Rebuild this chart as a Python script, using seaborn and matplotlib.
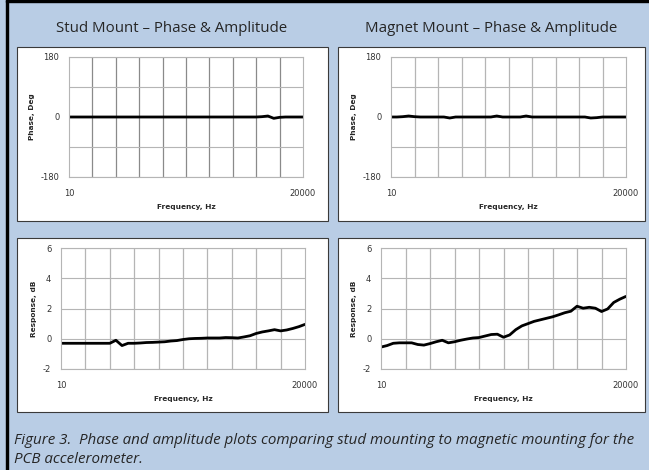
import numpy as np
import matplotlib
matplotlib.use("Agg")
import matplotlib.pyplot as plt
from matplotlib.patches import Rectangle
import seaborn as sns

# Frecuencias de medida (eje de categorias, 41 puntos)
freq_hz = [10, 12, 15, 18, 22, 27, 33, 39, 47, 56, 68, 82,
           100, 120, 150, 180, 220, 270, 330, 390, 470, 560, 680, 820,
           1000, 1200, 1500, 1800, 2200, 2700, 3300, 3900, 4700, 5600, 6800, 8200,
           10000, 12000, 15000, 18000, 20000]

stud_phase = [0, 0, 0, 0, 0, 0, 0, 0, 0, 0, 0, 0, 0, 0, 0, 0, 0, 0, 0, 0, 0,
              0, 0, 0, 0, 0, 0, 0, 0, 0, 0, 0, 0, 1, 3, -4, -1, 0, 0, 0, 0]
magnet_phase = [0, 0, 1, 3, 1, 0, 0, 0, 0, 0, -3, 0, 0, 0, 0, 0, 0, 0, 3, 0, 0,
                0, 0, 3, 0, 0, 0, 0, 0, 0, 0, 0, 0, 0, -3, -2, 0, 0, 0, 0, 0]

stud_amp = [-0.3, -0.3, -0.3, -0.3, -0.3, -0.3, -0.3, -0.3, -0.3, -0.1, -0.45,
            -0.3, -0.3, -0.28, -0.25, -0.24, -0.22, -0.2, -0.15, -0.12, -0.05,
            0.0, 0.02, 0.03, 0.05, 0.05, 0.05, 0.08, 0.07, 0.05, 0.12,
            0.2, 0.35, 0.45, 0.52, 0.6, 0.52, 0.58, 0.68, 0.8, 0.95]
magnet_amp = [-0.55, -0.45, -0.3, -0.27, -0.27, -0.27, -0.38, -0.42, -0.32, -0.2, -0.1,
              -0.27, -0.2, -0.1, -0.02, 0.05, 0.08, 0.18, 0.28, 0.3, 0.1,
              0.25, 0.6, 0.85, 1.0, 1.15, 1.25, 1.35, 1.45, 1.58, 1.72,
              1.82, 2.15, 2.02, 2.08, 2.02, 1.8, 1.97, 2.4, 2.62, 2.8]

titles = ["Stud Mount \u2013 Phase & Amplitude", "Magnet Mount \u2013 Phase & Amplitude"]
caption = ["Figure 3.  Phase and amplitude plots comparing stud mounting to magnetic mounting for the",
           "PCB accelerometer."]

sns.set_style("white")
plt.rcParams['font.family'] = ['DejaVu Sans']
plt.rcParams['axes.unicode_minus'] = False

W, H = 649, 470
bg = '#b9cde5'
fig = plt.figure(figsize=(W / 100, H / 100), dpi=100, facecolor=bg)


def px_box(x0, y0, x1, y1):
    # pixeles (desde arriba-izquierda) a coordenadas de figura
    return [x0 / W, 1 - y1 / H, (x1 - x0) / W, (y1 - y0) / H]


# borde negro
fig.patches.append(Rectangle((6 / W, 0), 2 / W, 1, transform=fig.transFigure, color='black', zorder=-2))
fig.patches.append(Rectangle((6 / W, 1 - 2 / H), 1, 2 / H, transform=fig.transFigure, color='black', zorder=-2))

# paneles blancos
for (x0, y0, x1, y1) in [(17, 47, 328, 221), (338, 47, 645, 221), (17, 238, 328, 412), (338, 238, 645, 412)]:
    b = px_box(x0, y0, x1, y1)
    fig.patches.append(Rectangle((b[0], b[1]), b[2], b[3], transform=fig.transFigure,
                                 facecolor='white', edgecolor='#3a3a3a', lw=0.8, zorder=-1))

pos = np.arange(len(freq_hz))


def style_axis(ax, ylim, yticks, ylabel, vcolor):
    ax.set_xlim(pos[0], pos[-1])
    ax.set_ylim(*ylim)
    ax.set_xticks([pos[0], pos[-1]])
    ax.set_xticklabels([str(freq_hz[0]), str(freq_hz[-1])])
    ax.set_xticks(pos[::4], minor=True)
    ax.set_yticks(yticks)
    ax.grid(True, which='minor', axis='x', color=vcolor, lw=0.9)
    ax.grid(True, which='major', axis='y', color='#b5b5b5', lw=0.8)
    ax.tick_params(which='both', length=0, labelsize=6, colors='#333333')
    ax.tick_params(axis='x', pad=9)
    ax.tick_params(axis='y', pad=7)
    for s in ax.spines.values():
        s.set_color('#b5b5b5')
        s.set_linewidth(0.8)
    ax.set_xlabel('Frequency, Hz', fontsize=5.3, fontweight='bold', labelpad=4)
    ax.set_ylabel(ylabel, fontsize=5.3, fontweight='bold', labelpad=4)
    ax.set_facecolor('white')


plots = [
    (px_box(69, 57, 303, 177), stud_phase, (-180, 180), [-180, 0, 180], [-180, -90, 0, 90, 180], 'Phase, Deg', '#8a8a8a'),
    (px_box(391, 57, 626, 177), magnet_phase, (-180, 180), [-180, 0, 180], [-180, -90, 0, 90, 180], 'Phase, Deg', '#b5b5b5'),
    (px_box(61, 248, 305, 369), stud_amp, (-2, 6), [-2, 0, 2, 4, 6], None, 'Response, dB', '#b5b5b5'),
    (px_box(381, 248, 626, 369), magnet_amp, (-2, 6), [-2, 0, 2, 4, 6], None, 'Response, dB', '#b5b5b5'),
]

for box, vals, ylim, yticks, ygrid, ylabel, vcolor in plots:
    ax = fig.add_axes(box)
    sns.lineplot(x=pos, y=vals, ax=ax, color='black', lw=2)
    style_axis(ax, ylim, yticks, ylabel, vcolor)
    if ygrid is not None:
        ax.set_yticks(ygrid, minor=True)
        ax.grid(True, which='minor', axis='y', color='#b5b5b5', lw=0.8)

fig.text(172 / W, 1 - 32 / H, titles[0], ha='center', va='baseline', fontsize=10.8, family='Open Sans')
fig.text(491 / W, 1 - 32 / H, titles[1], ha='center', va='baseline', fontsize=10.8, family='Open Sans')
fig.text(14 / W, 1 - 444 / H, caption[0], ha='left', va='baseline', fontsize=10.9, style='italic',
         family='Open Sans')
fig.text(14 / W, 1 - 463 / H, caption[1], ha='left', va='baseline', fontsize=10.9, style='italic',
         family='Open Sans')

fig.savefig('out.png', dpi=100, facecolor=bg)
